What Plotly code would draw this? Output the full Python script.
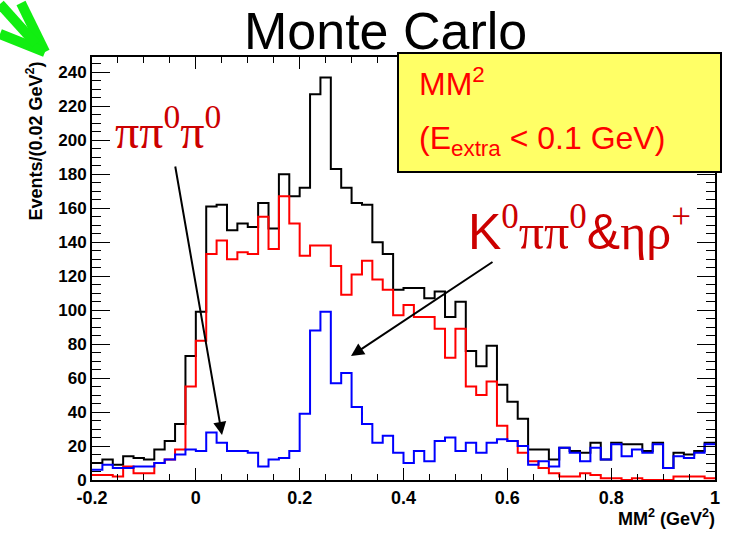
import numpy as np
import plotly.graph_objects as go

# ---- data: MM^2 histogram, 60 bins of 0.02 GeV^2 from -0.2 to 1.0 ----
x_min, bin_w, n_bins = -0.2, 0.02, 60
total_counts = [10, 12, 9, 14, 13, 12, 18, 23, 33, 73,
                99, 161, 162, 147, 151, 149, 163, 148, 180, 167,
                172, 227, 237, 183, 172, 163, 162, 140, 133, 112,
                113, 113, 107, 111, 96, 105, 76, 67, 79, 56,
                46, 36, 18, 18, 12, 19, 17, 16, 22, 12,
                22, 21, 21, 17, 22, 7, 16, 15, 17, 22]
pipi0pi0_counts = [3, 3, 2, 8, 4, 4, 10, 12, 18, 55,
                   82, 133, 141, 130, 134, 133, 155, 136, 167, 151,
                   132, 138, 138, 126, 109, 121, 129, 118, 112, 97,
                   103, 96, 96, 89, 72, 89, 55, 50, 58, 32,
                   23, 16, 11, 7, 4, 2, 2, 4, 3, 1,
                   1, 0, 1, 0, 0, 0, 2, 2, 2, 1]
k0_etarho_counts = [6, 9, 7, 7, 8, 8, 10, 12, 15, 18,
                    17, 28, 22, 17, 17, 16, 8, 12, 13, 17,
                    39, 88, 99, 57, 63, 43, 33, 22, 26, 16,
                    10, 17, 11, 23, 25, 17, 22, 16, 22, 24,
                    23, 20, 9, 11, 8, 19, 16, 11, 19, 12,
                    21, 14, 18, 16, 21, 7, 14, 13, 16, 21]
x_tickvals = [-0.2, 0, 0.2, 0.4, 0.6, 0.8, 1.0]
x_ticktext = ["-0.2", "0", "0.2", "0.4", "0.6", "0.8", "1"]

edges = x_min + bin_w * np.arange(n_bins + 1)

fig = go.Figure()
for counts, color in [(total_counts, "#000000"),
                      (pipi0pi0_counts, "#FF0000"),
                      (k0_etarho_counts, "#0000FF")]:
    fig.add_trace(go.Scatter(
        x=edges, y=list(counts) + [counts[-1]],
        mode="lines", line=dict(shape="hv", color=color, width=2),
        hoverinfo="skip", showlegend=False))

L, R, T, B = 92, 16, 57, 54
W, H = 731, 534
pw, ph = W - L - R, H - T - B


def px(xp):
    return (xp - L) / pw


def py(yp):
    return (H - B - yp) / ph


SANS = "Liberation Sans, Arial, sans-serif"
SERIF = "Liberation Serif, Times New Roman, serif"

fig.update_layout(
    width=W, height=H,
    margin=dict(l=L, r=R, t=T, b=B),
    paper_bgcolor="white", plot_bgcolor="white",
    showlegend=False,
    font=dict(family=SANS, color="black"),
    xaxis=dict(range=[-0.2, 1.0], tickvals=x_tickvals, ticktext=x_ticktext,
               ticks="inside", ticklen=12, tickwidth=1, tickcolor="black",
               showline=True, linewidth=2, linecolor="black", mirror="allticks",
               showgrid=False, zeroline=False,
               tickfont=dict(family=SANS, size=18, weight="bold", color="black"),
               minor=dict(ticks="inside", ticklen=6, tickwidth=1, tickcolor="black",
                          dtick=0.05, tick0=-0.2, showgrid=False)),
    yaxis=dict(range=[0, 249], dtick=20, tick0=0,
               ticks="inside", ticklen=18, tickwidth=1, tickcolor="black",
               showline=True, linewidth=2, linecolor="black", mirror="allticks",
               showgrid=False, zeroline=False,
               tickfont=dict(family=SANS, size=17, weight="bold", color="black"),
               minor=dict(ticks="inside", ticklen=9, tickwidth=1, tickcolor="black",
                          dtick=5, tick0=0, showgrid=False)),
)

shapes = []
# yellow info box
shapes.append(dict(type="rect", xref="paper", yref="paper",
                   x0=px(398), x1=px(721), y0=py(172), y1=py(53),
                   fillcolor="#FFFF66", line=dict(color="black", width=2), layer="above"))
# green pointer arrow (top-left)
green = "#11EE11"
for (x0, y0, x1, y1) in [(21, 3, 45, 52), (0, 34, 45, 52), (0, 4, 36, 44)]:
    shapes.append(dict(type="line", xref="paper", yref="paper",
                       x0=px(x0), y0=py(y0), x1=px(x1), y1=py(y1),
                       line=dict(color=green, width=10), layer="above"))
fig.update_layout(shapes=shapes)

ann = []
ann.append(dict(text="Monte Carlo", xref="paper", yref="paper",
                x=px(385), y=py(31), xanchor="center", yanchor="middle",
                showarrow=False, font=dict(family=SANS, size=52, color="black")))
ann.append(dict(text="MM<sup>2</sup>", xref="paper", yref="paper",
                x=px(417), y=py(82), xanchor="left", yanchor="middle",
                showarrow=False, font=dict(family=SANS, size=32, color="#FF0000")))
ann.append(dict(text="(E<sub>extra</sub> &lt; 0.1 GeV)", xref="paper", yref="paper",
                x=px(417), y=py(140), xanchor="left", yanchor="middle",
                showarrow=False, font=dict(family=SANS, size=32, color="#FF0000")))
ann.append(dict(text="ππ<sup>0</sup>π<sup>0</sup>", xref="paper", yref="paper",
                x=px(113), y=py(128), xanchor="left", yanchor="middle",
                showarrow=False, font=dict(family=SERIF, size=48, color="#CC0000")))
ann.append(dict(text="<span style='font-family:Liberation Sans'>K</span><sup>0</sup>ππ<sup>0</sup>"
                     "<span style='font-family:Liberation Sans'>&amp;</span>ηρ<sup>+</sup>",
                xref="paper", yref="paper",
                x=px(466), y=py(228), xanchor="left", yanchor="middle",
                showarrow=False, font=dict(family=SERIF, size=50, color="#CC0000")))
ann.append(dict(text="Events/(0.02 GeV<sup>2</sup>)", xref="paper", yref="paper",
                x=px(35), y=py(60), xanchor="center", yanchor="top", textangle=-90,
                showarrow=False, font=dict(family=SANS, size=18, weight="bold", color="black")))
ann.append(dict(text="MM<sup>2</sup> (GeV<sup>2</sup>)", xref="paper", yref="paper",
                x=px(717), y=py(517), xanchor="right", yanchor="middle",
                showarrow=False, font=dict(family=SANS, size=18, weight="bold", color="black")))
# black arrows pointing at the components
ann.append(dict(text="", xref="paper", yref="paper", x=px(222), y=py(435),
                ax=175 - 222, ay=165 - 435, showarrow=True, arrowhead=2,
                arrowsize=1.3, arrowwidth=2, arrowcolor="black", standoff=0))
ann.append(dict(text="", xref="paper", yref="paper", x=px(351), y=py(356),
                ax=494 - 351, ay=261 - 356, showarrow=True, arrowhead=2,
                arrowsize=1.3, arrowwidth=2, arrowcolor="black", standoff=0))
fig.update_layout(annotations=ann)

fig.write_html("out.html")
